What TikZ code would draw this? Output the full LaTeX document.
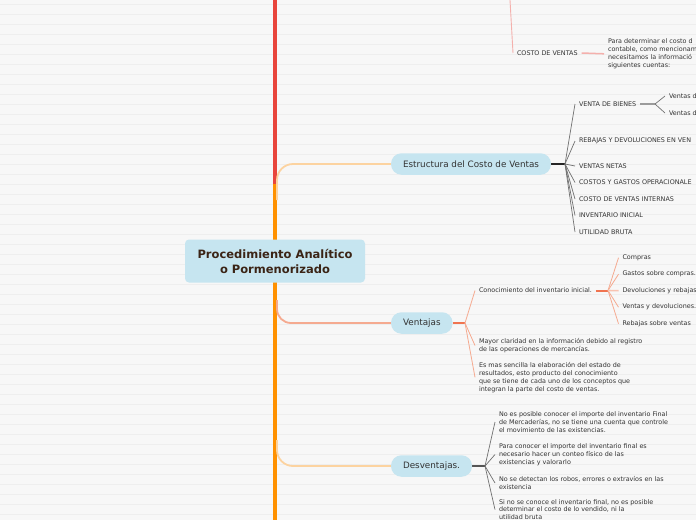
\documentclass[tikz,border=0pt]{standalone}
\usepackage{fontspec}
\setmainfont{DejaVu Sans}
\pgfdeclarelayer{back}
\pgfdeclarelayer{lines}
\pgfsetlayers{back,lines,main}
\definecolor{bgc}{HTML}{F7F7F7}
\definecolor{stripec}{HTML}{EEEEEE}
\definecolor{nodefill}{HTML}{C6E5F0}
\definecolor{textc}{HTML}{333333}
\definecolor{roottext}{HTML}{3B2416}
\definecolor{redtrunk}{HTML}{E8453C}
\definecolor{orangetrunk}{HTML}{FF9100}
\definecolor{lightorange}{HTML}{FCD3A0}
\definecolor{salmon}{HTML}{F07450}
\definecolor{salmonlight}{HTML}{F5AA90}
\definecolor{pinkline}{HTML}{F4B0AC}
\definecolor{darkhub}{HTML}{252525}
\definecolor{fangray}{HTML}{707070}
\definecolor{grayhub}{HTML}{555555}
\begin{document}
\begin{tikzpicture}[x=1pt,y=-1pt,
  every node/.style={inner sep=0pt, outer sep=0pt, text=textc},
  small/.style={font=\fontsize{6.4}{7.9}\selectfont, anchor=west, inner xsep=4pt, align=left},
  pill/.style={fill=nodefill, rounded corners=10.5pt, minimum height=21.5pt, inner xsep=12pt, anchor=west, font=\fontsize{8.8}{10}\selectfont},
  rootbox/.style={fill=nodefill, rounded corners=4pt, minimum width=180pt, minimum height=43pt, align=center, text=roottext, font=\fontsize{11.5}{15}\selectfont\bfseries},
  trunkred/.style={draw=redtrunk, line width=4.5pt},
  trunkorange/.style={draw=orangetrunk, line width=4.5pt},
  branchlight/.style={draw=lightorange, line width=1.8pt, rounded corners=16pt},
  branchsalmon/.style={draw=salmonlight, line width=1.8pt, rounded corners=14pt},
  hubdark/.style={draw=darkhub, line width=2pt},
  hubgray/.style={draw=grayhub, line width=2pt},
  hublight/.style={draw=fangray!70, line width=2pt},
  hubsalmon/.style={draw=salmon, line width=2pt},
  fandark/.style={draw=fangray, line width=0.7pt},
  fansalmon/.style={draw=salmonlight, line width=0.8pt},
  fanpink/.style={draw=pinkline, line width=0.9pt}
]
\path[use as bounding box] (0,0) rectangle (696,520);
\clip (0,0) rectangle (696,520);

% ---------- nodes ----------
\node[rootbox] (root) at (275,261) {Procedimiento Analítico\\o Pormenorizado};
\node[pill] (est) at (391,164) {Estructura del Costo de Ventas};
\node[pill] (ven) at (391,323) {Ventajas};
\node[pill] (des) at (391,466) {Desventajas.};

% top part
\node[small] (cv) at (513,53) {COSTO DE VENTAS};
\node[small] (cvd) at (604,53.8) {Para determinar el costo d\\contable, como mencionam\\necesitamos la informació\\siguientes cuentas:};

% Estructura children
\node[small] (e1) at (575,104) {VENTA DE BIENES};
\node[small] (e2) at (575,141) {REBAJAS Y DEVOLUCIONES EN VEN};
\node[small] (e3) at (575,166) {VENTAS NETAS};
\node[small] (e4) at (575,182.5) {COSTOS Y GASTOS OPERACIONALE};
\node[small] (e5) at (575,199) {COSTO DE VENTAS INTERNAS};
\node[small] (e6) at (575,215.5) {INVENTARIO INICIAL};
\node[small] (e7) at (575,232) {UTILIDAD BRUTA};
\node[small] (e11) at (665,96) {Ventas d};
\node[small] (e12) at (665,113) {Ventas d};

% Ventajas children
\node[small] (v1) at (475,290.5) {Conocimiento del inventario inicial.};
\node[small] (v2) at (475,345.5) {Mayor claridad en la información debido al registro\\de las operaciones de mercancías.};
\node[small] (v3) at (475,377.3) {Es mas sencilla la elaboración del estado de\\resultados, esto producto del conocimiento\\que se tiene de cada uno de los conceptos que\\integran la parte del costo de ventas.};
\node[small] (v11) at (618.5,257.7) {Compras};
\node[small] (v12) at (618.5,274.2) {Gastos sobre compras.};
\node[small] (v13) at (618.5,290.7) {Devoluciones y rebajas};
\node[small] (v14) at (618.5,307.2) {Ventas y devoluciones.};
\node[small] (v15) at (618.5,323.7) {Rebajas sobre ventas};

% Desventajas children
\node[small] (d1) at (495,422) {No es posible conocer el importe del inventario Final\\de Mercaderías, no se tiene una cuenta que controle\\el movimiento de las existencias.};
\node[small] (d2) at (495,454.5) {Para conocer el importe del inventario final es\\necesario hacer un conteo físico de las\\existencias y valorarlo};
\node[small] (d3) at (495,483) {No se detectan los robos, errores o extravíos en las\\existencia};
\node[small] (d4) at (495,509.6) {Si no se conoce el inventario final, no es posible\\determinar el costo de lo vendido, ni la\\utilidad bruta};

% ---------- coordinates ----------
\coordinate (topend) at (275,0);
\coordinate (redend) at (275,186);
\coordinate (orgtop) at (275,184);
\coordinate (botend) at (275,520);
\coordinate (bEst) at (277,200);
\coordinate (bVen) at (277,300);
\coordinate (bDes) at (277,440);
\coordinate (cvtop) at (510,0);
\coordinate (ehub) at (565,164);
\coordinate (e1hub) at (655,104);
\coordinate (vhub) at (465,323);
\coordinate (v1hub) at (608,290.5);
\coordinate (dhub) at (485,466);

% ---------- background ----------
\begin{pgfonlayer}{back}
  \fill[bgc] (0,0) rectangle (696,520);
  \foreach \yy in {4,14,...,514} \draw[stripec, line width=0.8pt] (0,\yy) -- (696,\yy);
\end{pgfonlayer}

% ---------- connectors ----------
\begin{pgfonlayer}{lines}
  \draw[trunkred] (topend) -- (redend);
  \draw[trunkorange] (orgtop) -- (botend);
  \draw[branchlight] (bEst) |- (est.west);
  \draw[branchsalmon] (bVen) |- (ven.west);
  \draw[branchlight] (bDes) |- (des.west);

  \draw[fanpink] (cvtop) -- (cv.west);
  \draw[draw=pinkline, line width=1.5pt] (cv.east) -- (cvd.west);

  \draw[hubdark] (est.east) -- (ehub);
  \foreach \c in {e1,e2,e3,e4,e5,e6,e7} \draw[fandark] (ehub) -- (\c.west);
  \draw[hublight] (e1.east) -- (e1hub);
  \foreach \c in {e11,e12} \draw[fandark] (e1hub) -- (\c.west);

  \draw[hubsalmon] (ven.east) -- (vhub);
  \foreach \c in {v1,v2,v3} \draw[fansalmon] (vhub) -- (\c.west);
  \draw[hubsalmon] (v1.east) -- (v1hub);
  \foreach \c in {v11,v12,v14,v15} \draw[fansalmon] (v1hub) -- (\c.west);
  \draw[draw=salmonlight!70, line width=1.6pt] (v1hub) -- (v13.west);

  \draw[hubgray] (des.east) -- (dhub);
  \foreach \c in {d1,d2,d3,d4} \draw[fandark] (dhub) -- (\c.west);
\end{pgfonlayer}
\end{tikzpicture}
\end{document}
